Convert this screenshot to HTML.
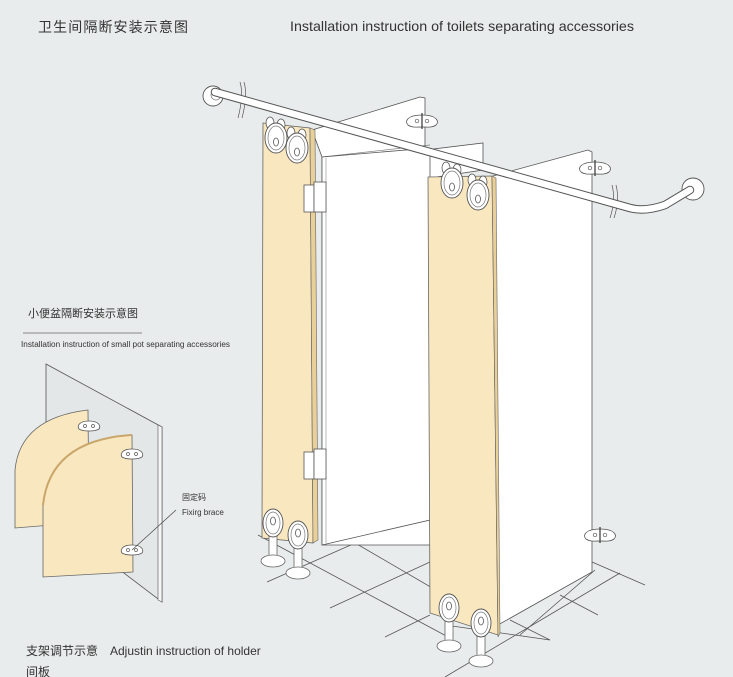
<!DOCTYPE html>
<html><head><meta charset="utf-8"><style>
html,body{margin:0;padding:0;background:#e9ecec;}
svg{display:block;}
</style></head><body>
<svg width="733" height="677" viewBox="0 0 733 677" xmlns="http://www.w3.org/2000/svg">
<defs>
<g id="foot">
  <rect x="-4" y="8" width="8" height="26" fill="#fff" stroke="#666" stroke-width="0.8"/>
  <ellipse cx="0" cy="38" rx="12" ry="6" fill="#fff" stroke="#666" stroke-width="0.8"/>
  <ellipse cx="0" cy="0" rx="10" ry="14" fill="#fff" stroke="#555" stroke-width="0.9"/>
  <ellipse cx="0" cy="0" rx="7" ry="11" fill="none" stroke="#777" stroke-width="0.7"/>
  <ellipse cx="0" cy="-2" rx="2.5" ry="4" fill="none" stroke="#555" stroke-width="0.8"/>
</g>
<g id="hang">
  <ellipse cx="-6" cy="-15" rx="4" ry="6" fill="#fff" stroke="#555" stroke-width="0.8"/>
  <ellipse cx="5" cy="-13" rx="4" ry="6" fill="#fff" stroke="#555" stroke-width="0.8"/>
  <ellipse cx="0" cy="0" rx="11" ry="15" fill="#fff" stroke="#555" stroke-width="0.9"/>
  <ellipse cx="0" cy="0" rx="8" ry="12" fill="none" stroke="#777" stroke-width="0.7"/>
  <ellipse cx="0" cy="4" rx="2.5" ry="4" fill="none" stroke="#555" stroke-width="0.8"/>
</g>
<g id="brk">
  <path d="M0,-6 C-14,-6 -18,0 -14,4 C-10,7 -4,6 0,6 C4,6 10,7 14,4 C18,0 14,-6 0,-6Z" fill="#fff" stroke="#555" stroke-width="0.8"/>
  <circle cx="-5" cy="0" r="1.8" fill="none" stroke="#555" stroke-width="0.7"/>
  <circle cx="5" cy="0" r="1.8" fill="none" stroke="#555" stroke-width="0.7"/>
  <line x1="0" y1="-8" x2="0" y2="8" stroke="#333" stroke-width="1.2"/>
</g>
<g id="brks">
  <path d="M0,-5 C-10,-5 -12,0 -10,3 C-7,5 -3,5 0,5 C3,5 7,5 10,3 C12,0 10,-5 0,-5Z" fill="#fff" stroke="#555" stroke-width="0.8"/>
  <circle cx="-4" cy="0" r="1.5" fill="none" stroke="#555" stroke-width="0.7"/>
  <circle cx="4" cy="0" r="1.5" fill="none" stroke="#555" stroke-width="0.7"/>
</g>
</defs>

<text x="38" y="32" font-family="Liberation Sans, Noto Sans CJK SC, sans-serif" font-size="14" fill="#333" textLength="150" lengthAdjust="spacing">卫生间隔断安装示意图</text>
<text x="290" y="31" font-family="Liberation Sans, sans-serif" font-size="14" fill="#333" textLength="344" lengthAdjust="spacingAndGlyphs">Installation instruction of toilets separating accessories</text>

<g stroke="#555" stroke-width="0.8" fill="none">
<line x1="258" y1="535" x2="450" y2="638"/>
<line x1="267" y1="582" x2="430" y2="510"/>
<line x1="330" y1="608" x2="430" y2="562"/>
<line x1="385" y1="637" x2="430" y2="615"/>
<line x1="350" y1="540" x2="470" y2="610"/>
<line x1="445" y1="625" x2="550" y2="640"/>
<line x1="520" y1="635" x2="595" y2="570"/>
<line x1="445" y1="677" x2="620" y2="573"/>
<line x1="592" y1="562" x2="645" y2="585"/>
<line x1="560" y1="595" x2="598" y2="615"/>
<line x1="510" y1="620" x2="550" y2="640"/>
</g>

<polygon points="312,130 420,97 425,98 425,150 483,143 483,170 430,178 430,545 322,545 322,157" fill="#fff" stroke="#555" stroke-width="0.8"/>
<line x1="322" y1="157" x2="430" y2="145" stroke="#777" stroke-width="0.7"/>
<polygon points="322,157 430,148 430,520 322,545" fill="#fff" stroke="#555" stroke-width="0.8"/>
<line x1="326" y1="158" x2="326" y2="543" stroke="#888" stroke-width="0.6"/>

<polygon points="493,176 588,150 592,152 592,572 498,625" fill="#fff" stroke="#555" stroke-width="0.8"/>

<polygon points="263,123 310,128 313,543 262,538" fill="#f9e7bf" stroke="#666" stroke-width="0.8"/>
<polygon points="310,128 315,130 318,540 313,543" fill="#e9cf98" stroke="#666" stroke-width="0.6"/>
<g fill="#fff" stroke="#555" stroke-width="0.8">
<rect x="304" y="185" width="10" height="27"/><rect x="314" y="182" width="12" height="30"/>
<rect x="304" y="452" width="10" height="27"/><rect x="314" y="449" width="12" height="30"/>
</g>

<polygon points="428,177 492,176 498,635 430,613" fill="#f9e7bf" stroke="#666" stroke-width="0.8"/>
<polygon points="492,176 496,178 500,633 498,637" fill="#e9cf98" stroke="#666" stroke-width="0.6"/>

<use href="#brk" x="422" y="121"/>
<use href="#brk" x="595" y="168"/>
<use href="#brk" x="600" y="535"/>

<g stroke="#555" stroke-width="0.7" fill="none">
<path d="M240,82 Q244,95 238,118"/><path d="M244,82 Q248,95 242,118"/>
<path d="M612,185 Q616,200 610,218"/><path d="M616,185 Q620,200 614,218"/>
</g>

<circle cx="213" cy="96" r="10" fill="#fff" stroke="#555" stroke-width="0.9"/>
<circle cx="216" cy="95" r="5" fill="#fff" stroke="#777" stroke-width="0.7"/>
<circle cx="693" cy="189" r="11" fill="#fff" stroke="#555" stroke-width="0.9"/>
<path d="M215,92 L630,208 Q645,212 665,205 L690,190" fill="none" stroke="#555" stroke-width="8.5" stroke-linecap="round"/>
<path d="M215,92 L630,208 Q645,212 665,205 L690,190" fill="none" stroke="#fff" stroke-width="6.5" stroke-linecap="round"/>

<use href="#hang" x="276" y="138"/>
<use href="#hang" x="297" y="148"/>
<use href="#hang" x="452" y="183"/>
<use href="#hang" x="478" y="195"/>

<use href="#foot" x="273" y="523"/>
<use href="#foot" x="298" y="535"/>
<use href="#foot" x="449" y="608"/>
<use href="#foot" x="481" y="623"/>

<text x="28" y="317" font-family="Liberation Sans, Noto Sans CJK SC, sans-serif" font-size="11" fill="#333">小便盆隔断安装示意图</text>
<line x1="23" y1="333" x2="142" y2="333" stroke="#666" stroke-width="0.8"/>
<text x="21" y="347" font-family="Liberation Sans, sans-serif" font-size="8" fill="#333" textLength="209" lengthAdjust="spacingAndGlyphs">Installation instruction of small pot separating accessories</text>

<polygon points="46,364 162,427 162,602 120,570 46,530" fill="#e4e7e7" stroke="#555" stroke-width="0.8"/>
<polygon points="158,425 162,427 162,602 158,600" fill="#f5f5f5" stroke="#555" stroke-width="0.6"/>
<path d="M15,528 L15,470 Q20,418 88,410 L89,522 Z" fill="#f9e7bf" stroke="#666" stroke-width="0.8"/>
<path d="M43,577 L43,505 Q50,440 132,435 L133,572 Z" fill="#f9e7bf" stroke="#666" stroke-width="0.8"/>
<path d="M43,505 Q50,440 132,435" fill="none" stroke="#c9a66a" stroke-width="2"/>
<use href="#brks" x="89" y="426"/>
<use href="#brks" x="132" y="454"/>
<use href="#brks" x="132" y="550"/>
<line x1="176" y1="510" x2="132" y2="550" stroke="#444" stroke-width="0.7"/>
<text x="182" y="500" font-family="Liberation Sans, Noto Sans CJK SC, sans-serif" font-size="8" fill="#333">固定码</text>
<text x="182" y="515" font-family="Liberation Sans, sans-serif" font-size="8" fill="#333">Fixirg brace</text>

<text x="26" y="655" font-family="Liberation Sans, Noto Sans CJK SC, sans-serif" font-size="12" fill="#333">支架调节示意　Adjustin instruction of holder</text>
<text x="26" y="676" font-family="Liberation Sans, Noto Sans CJK SC, sans-serif" font-size="12" fill="#333">间板</text>
</svg>
</body></html>
